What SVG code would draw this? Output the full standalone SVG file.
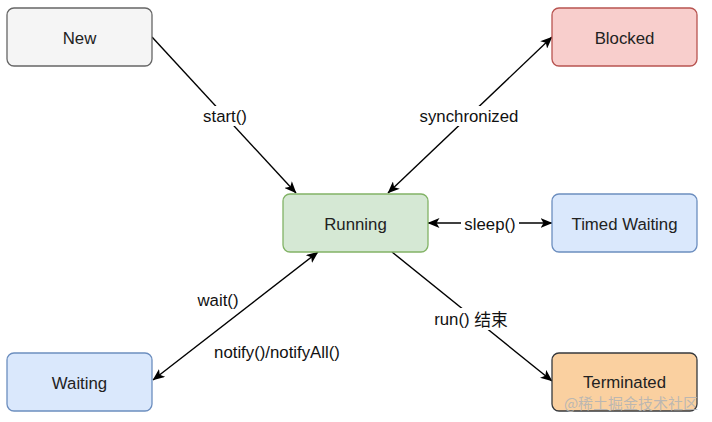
<svg xmlns="http://www.w3.org/2000/svg" width="712" height="422" viewBox="0 0 712 422">
<style>
.n rect{stroke-width:1.3}
text{font-family:"Liberation Sans",Arial,sans-serif;font-size:16.8px;text-anchor:middle;dominant-baseline:central}
.nt{fill:#222}
.lb{fill:#111}
.e line{stroke:#000;stroke-width:1.4;fill:none}
.bg{fill:#fff}
</style>
<defs>
<marker id="ar" viewBox="0 0 12 10" refX="11.5" refY="5" markerWidth="12" markerHeight="10" markerUnits="userSpaceOnUse" orient="auto-start-reverse">
<path d="M0,0 L12,5 L0,10 L3,5 Z" fill="#000"/>
</marker>
</defs>
<rect width="712" height="422" fill="#fff"/>
<g class="e" id="edges">
<line x1="152" y1="37" x2="296" y2="193" marker-end="url(#ar)"/>
<line x1="388" y1="193" x2="552" y2="37" marker-start="url(#ar)" marker-end="url(#ar)"/>
<line x1="428" y1="223" x2="552" y2="223" marker-start="url(#ar)" marker-end="url(#ar)"/>
<line x1="153" y1="380" x2="318" y2="252" marker-start="url(#ar)" marker-end="url(#ar)"/>
<line x1="392" y1="252" x2="552" y2="381" marker-end="url(#ar)"/>
<rect class="bg" x="199" y="106" width="52" height="20"/>
<text class="lb" x="225" y="116">start()</text>
<rect class="bg" x="415" y="106" width="108" height="20"/>
<text class="lb" x="469" y="116">synchronized</text>
<rect class="bg" x="461" y="214" width="58" height="20"/>
<text class="lb" x="490" y="224">sleep()</text>
<text class="lb" x="218" y="300">wait()</text>
<text class="lb" x="277" y="352">notify()/notifyAll()</text>
<rect class="bg" x="430" y="308" width="84" height="22"/>
<text class="lb" x="471" y="319">run() <tspan font-family="'Noto Sans CJK SC',sans-serif">结束</tspan></text>
</g>
<g id="new" class="n"><rect x="7" y="8" width="145" height="58" rx="7" fill="#f5f5f5" stroke="#666666"/><text class="nt" x="79.5" y="38">New</text></g>
<g id="running" class="n"><rect x="283" y="194" width="145" height="58" rx="7" fill="#d5e8d4" stroke="#82b366"/><text class="nt" x="355.5" y="224">Running</text></g>
<g id="blocked" class="n"><rect x="552" y="8" width="145" height="58" rx="7" fill="#f8cecc" stroke="#b85450"/><text class="nt" x="624.5" y="38">Blocked</text></g>
<g id="timed" class="n"><rect x="552" y="194" width="145" height="58" rx="7" fill="#dae8fc" stroke="#6c8ebf"/><text class="nt" x="624.5" y="224">Timed Waiting</text></g>
<g id="waiting" class="n"><rect x="7" y="353" width="145" height="58" rx="7" fill="#dae8fc" stroke="#6c8ebf"/><text class="nt" x="79.5" y="383">Waiting</text></g>
<g id="terminated" class="n"><rect x="552" y="353" width="145" height="58" rx="7" fill="#fad0a0" stroke="#36393d"/><text class="nt" x="624.5" y="382">Terminated</text></g>
<text x="631" y="402" style="font-family:'Noto Sans CJK SC',sans-serif;font-size:15px" fill="#b4b4b4" fill-opacity="0.9">@稀土掘金技术社区</text>
</svg>
